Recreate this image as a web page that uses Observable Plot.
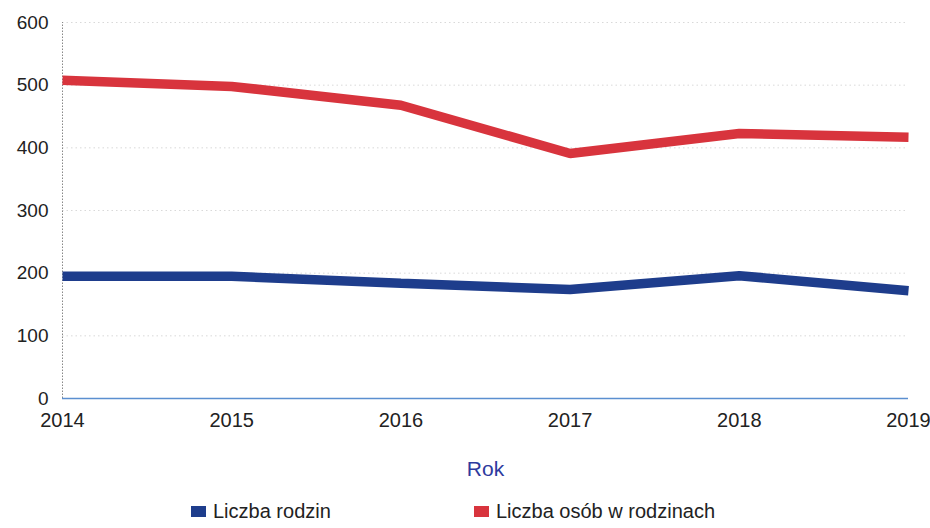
<!DOCTYPE html>
<html><head><meta charset="utf-8">
<script src="https://cdn.jsdelivr.net/npm/d3@7"></script>
<script src="https://cdn.jsdelivr.net/npm/@observablehq/plot@0.6"></script>
<style>
body{margin:0;background:#fff;font-family:"Liberation Sans",Arial,sans-serif;}
#legend{display:flex;height:38px;align-items:center;font-family:"Liberation Sans",sans-serif;font-size:20px;color:#222;}
.item{position:absolute;display:flex;align-items:center;}
.sw{width:15px;height:11px;margin-right:7px;display:inline-block;}
</style></head>
<body>
<div id="chart"></div>
<div id="legend"></div>
<script>
const years = [2014, 2015, 2016, 2017, 2018, 2019];
const liczbaRodzin = [195, 195, 184, 174, 196, 172];
const liczbaOsob = [508, 498, 468, 391, 423, 417];
const yTicks = [0, 100, 200, 300, 400, 500, 600];
const seriesNames = ["Liczba rodzin", "Liczba osób w rodzinach"];
const seriesColors = ["#1e3d8c", "#d8343d"];

const data = [];
years.forEach((y, i) => {
  data.push({year: y, value: liczbaRodzin[i], series: seriesNames[0]});
  data.push({year: y, value: liczbaOsob[i], series: seriesNames[1]});
});

const chart = Plot.plot({
  width: 930, height: 490,
  marginTop: 22, marginBottom: 92, marginLeft: 62, marginRight: 22,
  style: {fontFamily: "Liberation Sans, Arial, sans-serif", background: "#fff"},
  x: {domain: [2014, 2019]},
  y: {domain: [0, 600]},
  color: {domain: seriesNames, range: seriesColors},
  marks: [
    Plot.gridY(yTicks.filter(d => d > 0), {stroke: "#aaa", strokeOpacity: 0.45, strokeDasharray: "1.5,3"}),
    Plot.ruleX([2014], {y1: 0, y2: 600, stroke: "#888", strokeDasharray: "1.5,1.5", strokeWidth: 1}),
    Plot.ruleY([0], {stroke: "#5b8fd0", strokeWidth: 1.5}),
    Plot.axisY({ticks: yTicks, tickSize: 0, tickPadding: 14, fontSize: 19, fill: "#222", label: null}),
    Plot.axisX({ticks: years, tickFormat: "d", tickSize: 0, tickPadding: 14, fontSize: 20, fill: "#222",
      label: "Rok", labelAnchor: "center", labelArrow: false, labelOffset: 77}),
    Plot.lineY(data, {x: "year", y: "value", stroke: "series", z: "series",
      strokeWidth: 9.5, strokeLinejoin: "miter", strokeLinecap: "butt"})
  ]
});
document.getElementById("chart").appendChild(chart);
chart.querySelectorAll("g[aria-label='x-axis label'] text").forEach(t => {
  t.setAttribute("fill", "#2d3a9e"); t.style.fontSize = "21px";
});

const legend = document.getElementById("legend");
const lx = [191, 474];
seriesNames.forEach((n, i) => {
  const it = document.createElement("div");
  it.className = "item";
  it.style.left = lx[i] + "px";
  it.style.top = "500px";
  it.innerHTML = `<span class="sw" style="background:${seriesColors[i]}"></span>${n}`;
  legend.appendChild(it);
});
</script>
</body></html>
